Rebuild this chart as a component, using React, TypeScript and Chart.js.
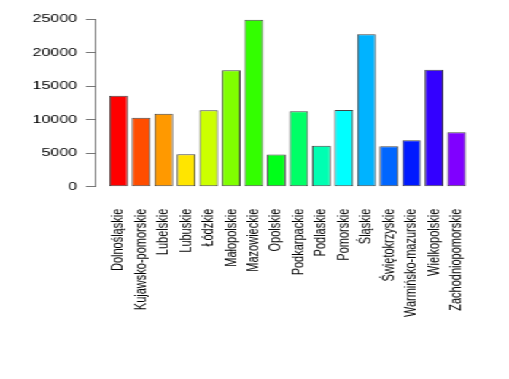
import React, { useEffect, useRef } from "react";
import { Chart, registerables } from "chart.js";

Chart.register(...registerables);

const categories = [
  "Dolnośląskie",
  "Kujawsko-pomorskie",
  "Lubelskie",
  "Lubuskie",
  "Łódzkie",
  "Małopolskie",
  "Mazowieckie",
  "Opolskie",
  "Podkarpackie",
  "Podlaskie",
  "Pomorskie",
  "Śląskie",
  "Świętokrzyskie",
  "Warmińsko-mazurskie",
  "Wielkopolskie",
  "Zachodniopomorskie",
];

const values = [
  13600, 10300, 10900, 4850, 11400, 17400, 24950, 4800, 11250, 6100, 11450,
  22750, 6050, 6950, 17450, 8150,
];

const barColors = [
  "#FF0000", "#FF4D00", "#FF9900", "#FFE500", "#CCFF00", "#80FF00",
  "#33FF00", "#00FF19", "#00FF66", "#00FFB2", "#00FFFF", "#00B3FF",
  "#0066FF", "#001AFF", "#3300FF", "#8000FF",
];

const yTicks = [0, 5000, 10000, 15000, 20000, 25000];

// R barplot geometry: bar width 1, space 0.2
const positions = categories.map((_, i) => 1.2 * i + 0.7);

const BASE_W = 349;
const H = 379;
const SX = 509 / BASE_W;

export default function App() {
  const ref = useRef<HTMLCanvasElement | null>(null);

  useEffect(() => {
    document.body.style.margin = "0";
    const canvas = ref.current;
    if (!canvas) return;
    const font = { family: "'Liberation Sans', Arial, sans-serif", size: 11 };
    const chart = new Chart(canvas, {
      type: "bar",
      data: {
        datasets: [
          {
            data: values.map((v, i) => ({ x: positions[i], y: v })),
            backgroundColor: barColors,
            borderColor: "#444444",
            borderWidth: 1,
            borderSkipped: false,
            categoryPercentage: 1,
            barPercentage: 1 / 1.2,
          },
        ],
      },
      options: {
        responsive: false,
        animation: false,
        layout: { padding: { left: 0, top: 19.3, right: 12.4, bottom: 0 } },
        plugins: {
          legend: { display: false },
          tooltip: { enabled: false },
        },
        scales: {
          x: {
            type: "linear",
            min: -0.56,
            max: 19.96,
            offset: false,
            bounds: "data",
            grid: { display: false, drawTicks: false, offset: false },
            border: { display: false },
            afterFit: (scale: any) => {
              scale.height = 192.3;
            },
            afterBuildTicks: (scale: any) => {
              scale.ticks = positions.map((p) => ({ value: p }));
            },
            ticks: {
              autoSkip: false,
              minRotation: 90,
              maxRotation: 90,
              padding: 22,
              color: "#000000",
              font,
              callback: (_v: any, idx: number) => categories[idx],
            },
          },
          y: {
            min: 0,
            max: 25000,
            afterFit: (scale: any) => {
              scale.width = 65.1;
            },
            afterBuildTicks: (scale: any) => {
              scale.ticks = yTicks.map((v) => ({ value: v }));
            },
            grid: {
              drawOnChartArea: false,
              drawTicks: true,
              tickLength: 6.2,
              color: "#777777",
              lineWidth: 1,
            },
            border: { display: true, color: "#777777", width: 1 },
            ticks: {
              padding: 6,
              color: "#000000",
              font,
              callback: (v: any) => String(v),
            },
          },
        },
      },
    });
    return () => chart.destroy();
  }, []);

  return (
    <div
      style={{
        position: "absolute",
        left: 0,
        top: 0,
        width: BASE_W,
        height: H,
        transform: `scaleX(${SX})`,
        transformOrigin: "0 0",
        background: "#ffffff",
      }}
    >
      <canvas ref={ref} width={BASE_W} height={H} />
    </div>
  );
}
